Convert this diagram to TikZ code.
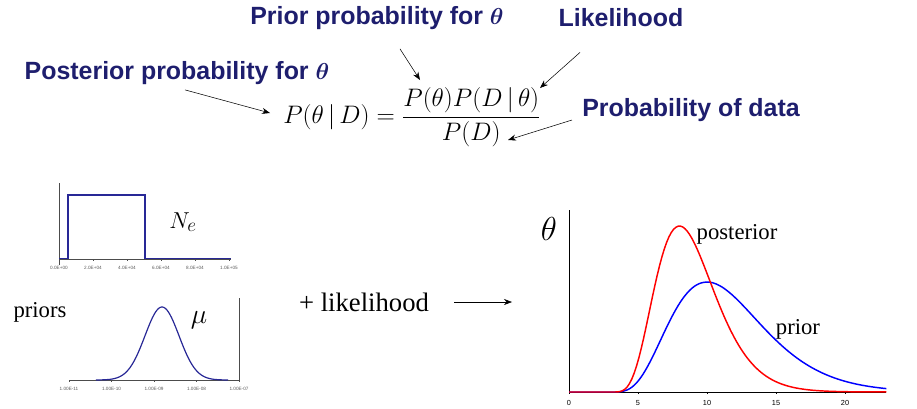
\documentclass[tikz,border=0pt]{standalone}
\usepackage{fontspec}
\setmainfont{Liberation Serif}
\newfontfamily\labelfont{Liberation Sans}
\usepackage{bm}
\usepackage{xcolor}
\usetikzlibrary{arrows.meta, positioning}
\definecolor{navy}{RGB}{30,30,110}
\definecolor{plotblue}{RGB}{40,40,150}

\begin{document}
\begin{tikzpicture}[x=0.75pt, y=-0.75pt,
    lbl/.style={font=\labelfont\bfseries\boldmath\fontsize{18.7}{22}\selectfont, text=navy, inner sep=0pt},
    arr/.style={-{Stealth[length=6pt,width=4.5pt]}, thin},
    tick/.style={font=\labelfont\fontsize{3.5}{4}\selectfont, text=gray!70!black, inner sep=0pt},
    tickb/.style={font=\labelfont\fontsize{5.5}{6}\selectfont, inner sep=0pt},
    word/.style={font=\fontsize{17}{20}\selectfont, inner sep=0pt}]
    \useasboundingbox (0,0) rectangle (917,408);

    % Bayes
    \node[lbl] (lblPrior) at (377,18) {Prior probability for $\bm\theta$};
    \node[lbl] (lblLik) at (621,18) {Likelihood};
    \node[lbl] (lblPost) at (177,73) {Posterior probability for $\bm\theta$};
    \node[lbl] (lblData) at (691,110) {Probability of data};
    \node[inner sep=0pt, font=\fontsize{20}{24}\selectfont, scale=0.915, transform shape] (eq) at (412,117)
        {$P(\theta\,|\,D)=\displaystyle\frac{P(\theta)P(D\,|\,\theta)}{P(D)}$};

    \coordinate (postTip) at (270,113);
    \coordinate (priorTip) at (420,80);
    \coordinate (likTip) at (540,88);
    \coordinate (dataTip) at (508,140);
    \draw[arr] ([shift={(8,5)}]lblPost.south) -- (postTip);
    \draw[arr] ([shift={(23,19)}]lblPrior.south) -- (priorTip);
    \draw[arr] ([shift={(-41,25)}]lblLik.south) -- (likTip);
    \draw[arr] ([shift={(-10,10)}]lblData.west) -- (dataTip);

    % N_e
    \draw[gray!60!black] (59,183) -- (59,265);
    \draw[gray!60!black] (59,259) -- (231,259);
    \foreach \i/\t in {0/0.0E+00, 1/2.0E+04, 2/4.0E+04, 3/6.0E+04, 4/8.0E+04, 5/1.0E+05} {
        \draw[gray!60!black] (59+34*\i,259) -- ++(0,2);
        \node[tick] (ne\i) at (59+34*\i,268) {\t};
    }
    \draw[plotblue, line width=0.9pt] (59,258.5) -- (68,258.5) -- (68,195) -- (145,195) -- (145,258.5) -- (231,258.5);
    \node[font=\fontsize{19}{20}\selectfont] (neLbl) at (183,222) {$N_e$};

    % mu
    \node[word] (priors) at (40,312) {priors};
    \draw[gray!60!black] (69,380) -- (239,380);
    \draw[gray!60!black] (239,298) -- (239,380);
    \foreach \i/\t in {0/1.00E-11, 1/1.00E-10, 2/1.00E-09, 3/1.00E-08, 4/1.00E-07} {
        \draw[gray!60!black] (69+42.5*\i,380) -- ++(0,2);
        \node[tick] (mu\i) at (69+42.5*\i,389) {\t};
    }
    \draw[plotblue, line width=0.9pt, domain=96:228, samples=90] plot (\x, {380-73*exp(-((\x-162)^2)/578)});
    \node[font=\fontsize{21}{22}\selectfont] (muLbl) at (199,320) {$\mu$};

    % likelihood
    \node[word, font=\fontsize{20}{22}\selectfont] (plusLik) at (364,302) {+ likelihood};
    \coordinate (likEnd) at (512,302);
    \draw[arr] ([shift={(25,0)}]plusLik.east) -- (likEnd);

    % theta
    \draw (569,210) -- (569,392) -- (886,392);
    \foreach \v in {0,5,...,20} {
        \draw (569+13.8*\v,392) -- ++(0,2);
        \node[tickb] (th\v) at (569+13.8*\v,403) {\v};
    }
    \draw[blue, line width=1.1pt] (569,392) -- (569+13.8*3.05,392)
        plot[domain=3.05:23, samples=120] (569+13.8*\x, {392-110*exp(4.3*(ln((\x-3)/7)-(\x-3)/7+1))});
    \draw[red, line width=1.1pt] (569,392) -- (569+13.8*3.05,392)
        plot[domain=3.05:23, samples=120] (569+13.8*\x, {392-166*exp(5.3*(ln((\x-3)/5)-(\x-3)/5+1))});
    \node[font=\fontsize{24}{24}\selectfont] (thLbl) at (549,229) {$\theta$};
    \node[word] (postLbl) at (737,234) {posterior};
    \node[word] (priorLbl) at (798,329) {prior};
\end{tikzpicture}
\end{document}
